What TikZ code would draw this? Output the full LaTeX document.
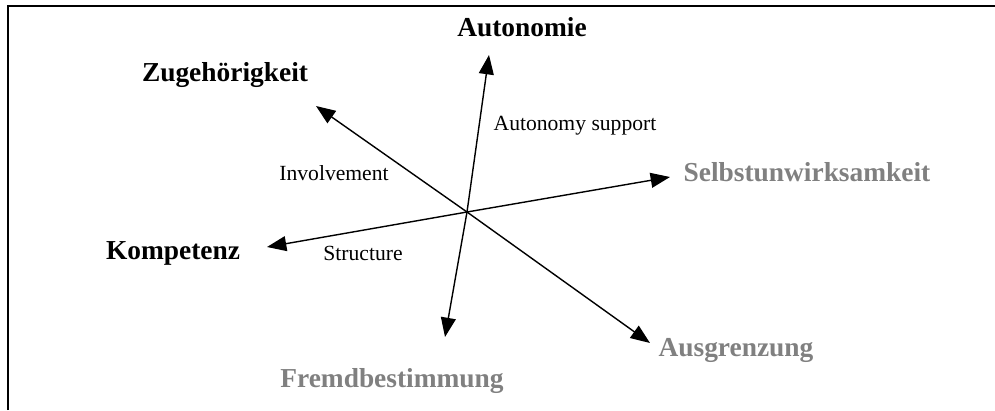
\documentclass[tikz,border=0pt]{standalone}
\usepackage{fontspec}
\setmainfont{Liberation Serif}
\usetikzlibrary{arrows.meta}

\begin{document}
\begin{tikzpicture}[x=0.02cm, y=-0.02cm,
    need/.style={font=\fontsize{15.6}{17}\selectfont\bfseries, text=black},
    risk/.style={font=\fontsize{15.6}{17}\selectfont\bfseries, text=black!50},
    lbl/.style={font=\fontsize{12.3}{14}\selectfont},
    axis/.style={line width=0.8pt, -{Triangle[length=11pt, width=8.5pt]}}]

    \useasboundingbox (0,0) rectangle (995,410);
    % frame
    \draw[line width=1.1pt] (8,410) -- (8,6) -- (995,6);

    % Nodes
    \coordinate (c) at (467,212);
    \node[need] (auto) at (522,27) {Autonomie};
    \node[need] (zuge) at (225,75) {Zugehörigkeit};
    \node[need] (komp) at (173,253) {Kompetenz};
    \node[risk] (selbst) at (807,172) {Selbstunwirksamkeit};
    \node[risk] (ausgr) at (736,350) {Ausgrenzung};
    \node[risk] (fremd) at (392,381) {Fremdbestimmung};

    \node[lbl] (autsup) at (575,126) {Autonomy support};
    \node[lbl] (invol) at (334,173) {Involvement};
    \node[lbl] (struct) at (363,253) {Structure};

    % arrow ends
    \coordinate (tauto) at (489,55);
    \coordinate (tzuge) at (316,106);
    \coordinate (tkomp) at (267,247);
    \coordinate (tselbst) at (670,177);
    \coordinate (tausgr) at (650,343);
    \coordinate (tfremd) at (445,337);

    % Edges
    \draw[axis] (c) -- (tauto);
    \draw[axis] (c) -- (tzuge);
    \draw[axis] (c) -- (tkomp);
    \draw[axis] (c) -- (tselbst);
    \draw[axis] (c) -- (tausgr);
    \draw[axis] (c) -- (tfremd);

\end{tikzpicture}
\end{document}
